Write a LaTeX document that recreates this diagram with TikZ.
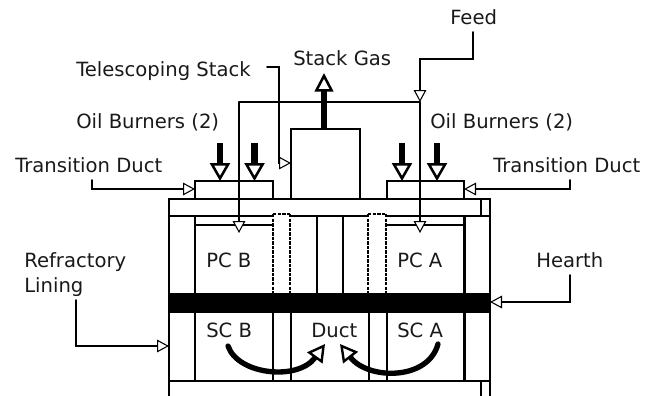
\documentclass[tikz,border=0pt]{standalone}
\usepackage{fontspec}
\setmainfont{DejaVu Sans}
\usetikzlibrary{arrows.meta}
\tikzset{
  x=0.75pt,y=-0.75pt,
  wall/.style={line width=1.2pt,line cap=rect},
  leader/.style={line width=1.2pt,line cap=round,line join=miter},
  tiny head/.style={-{Triangle[fill=white,line width=0.8pt,length=9pt,width=9.5pt]}},
  dashwall/.style={line width=1.3pt,dash pattern=on 2.6pt off 0.8pt},
  burner/.style={line width=5pt,-{Triangle[fill=white,line width=1.9pt,length=13.5pt,width=15pt]}},
  stackflow/.style={line width=4pt,-{Triangle[fill=white,line width=1.9pt,length=14pt,width=14pt]}},
  flow/.style={line width=4pt,line cap=round,-{Triangle[fill=white,line width=1.8pt,length=13pt,width=14pt]}},
  lbl/.style={inner sep=0pt,anchor=base west,font=\fontsize{14.7pt}{17pt}\selectfont,text=black!90}
}
\begin{document}
\begin{tikzpicture}
\useasboundingbox (0,0) rectangle (646,396);
% named points
\foreach \n/\x/\y in {ol/169/199,or/490/199,il/169/216,ir/490/216,bl/169/381,br/490/381,
  el/169/396,er/490/396,r2t/481/199,r2b/481/216,r3t/481/381,r3b/481/396,
  dbA/195/199,dbB/195/181,dbC/273/181,dbD/273/199,
  daA/387/199,daB/387/181,daC/464/181,daD/464/199,
  sA/291/199,sB/291/129,sC/360/129,sD/360/199,
  wlt/195/216,wlb/195/381,wrt/464.5/216,wrb/464.5/381,
  pbl/195/225,pbr/273/225,pal/387/225,par/464/225,
  d1t/273/214,d1b/273/293,d2t/290/214,d2b/290/293,d3t/368/214,d3b/368/293,d4t/386/214,d4b/386/293,
  c1t/317/216,c1b/317/293,c2t/343/216,c2b/343/293,
  l1t/273/313,l1b/273/381,l2t/291/313,l2b/291/381,l3t/369/313,l3b/369/381,l4t/387/313,l4b/387/381,
  hl/169/303,hr/490/303,
  fa/473/32,fb/473/59,fc/420/59,fd/420/102,fe/420/233,fg/239/102,fh/239/233,
  ba1/220/143,ba2/220/181,bb1/254.5/143,bb2/254.5/181,bc1/402/143,bc2/402/181,bd1/437/143,bd2/437/181,
  gt/324/73,gb/324/129,
  ta/267/67,tb/279/67,tc/279/163,td/291/163,
  tla/92/180,tlb/92/189,tlc/195/189,
  tra/570/180,trb/570/189,trc/464/189,
  ra/76/300,rb/76/346,rc/169/346,
  ha/570/275,hb/570/302,hc/490/302,
  ca/228/346,cb/325/344,cc/438/344,cd/340/344}
  {\coordinate (\n) at (\x,\y);}
% walls
\draw[wall] (ol) -- (or);
\draw[wall] (il) -- (ir);
\draw[wall] (bl) -- (br);
\draw[wall] (ol) -- (el);
\draw[wall] (or) -- (er);
\draw[wall] (r2t) -- (r2b);
\draw[wall] (r3t) -- (r3b);
\draw[wall] (dbA) -- (dbB) -- (dbC) -- (dbD);
\draw[wall] (daA) -- (daB) -- (daC) -- (daD);
\draw[wall] (sA) -- (sB) -- (sC) -- (sD);
\draw[wall] (wlt) -- (wlb);
\draw[wall,line width=1.6pt] (wrt) -- (wrb);
\draw[wall] (pbl) -- (pbr);
\draw[wall] (pal) -- (par);
\draw[wall] (c1t) -- (c1b);
\draw[wall] (c2t) -- (c2b);
\draw[wall] (l1t) -- (l1b);
\draw[wall] (l2t) -- (l2b);
\draw[wall] (l3t) -- (l3b);
\draw[wall] (l4t) -- (l4b);
% dashed telescoping sleeves
\fill[white] (d1t) rectangle (d2b);
\fill[white] (d3t) rectangle (d4b);
\draw[dashwall] (d1t) -- (d1b);
\draw[dashwall] (d2t) -- (d2b);
\draw[dashwall] (d3t) -- (d3b);
\draw[dashwall] (d4t) -- (d4b);
\draw[dashwall] (d1t) -- (d2t);
\draw[dashwall] (d3t) -- (d4t);
% hearth
\draw[line width=15pt] (hl) -- (hr);
% feed
\draw[leader] (fg) -- (fd);
\draw[leader,tiny head] (fg) -- (fh);
\draw[leader,tiny head] (fd) -- (fe);
\draw[leader,tiny head] (fa) -- (fb) -- (fc) -- (fd);
% burners and stack gas
\draw[burner] (ba1) -- (ba2);
\draw[burner] (bb1) -- (bb2);
\draw[burner] (bc1) -- (bc2);
\draw[burner] (bd1) -- (bd2);
\draw[stackflow] (gb) -- (gt);
% leaders
\draw[leader,tiny head] (ta) -- (tb) -- (tc) -- (td);
\draw[leader,tiny head] (tla) -- (tlb) -- (tlc);
\draw[leader,tiny head] (tra) -- (trb) -- (trc);
\draw[leader,tiny head] (ra) -- (rb) -- (rc);
\draw[leader,tiny head] (ha) -- (hb) -- (hc);
% flow arrows
\draw[flow] (ca) .. controls (238,375) and (298,381) .. (cb);
\draw[flow] (cc) .. controls (428,381) and (368,380) .. (cd);
% labels
\node[lbl] (tTele) at (76,76) {Telescoping Stack};
\node[lbl] (tGas) at (293,65) {Stack Gas};
\node[lbl] (tFeed) at (450,24) {Feed};
\node[lbl] (tOilL) at (76,128) {Oil Burners (2)};
\node[lbl] (tOilR) at (430,128) {Oil Burners (2)};
\node[lbl] (tDuctL) at (15,172) {Transition Duct};
\node[lbl] (tDuctR) at (493,172) {Transition Duct};
\node[lbl] (tRef) at (24,267) {Refractory};
\node[lbl] (tLin) at (24,292) {Lining};
\node[lbl] (tHearth) at (536,267) {Hearth};
\node[lbl] (tPCB) at (206,267) {PC B};
\node[lbl] (tPCA) at (397,267) {PC A};
\node[lbl] (tSCB) at (206,337) {SC B};
\node[lbl] (tSCA) at (397,337) {SC A};
\node[lbl] (tDuct) at (311,337) {Duct};
\end{tikzpicture}
\end{document}
